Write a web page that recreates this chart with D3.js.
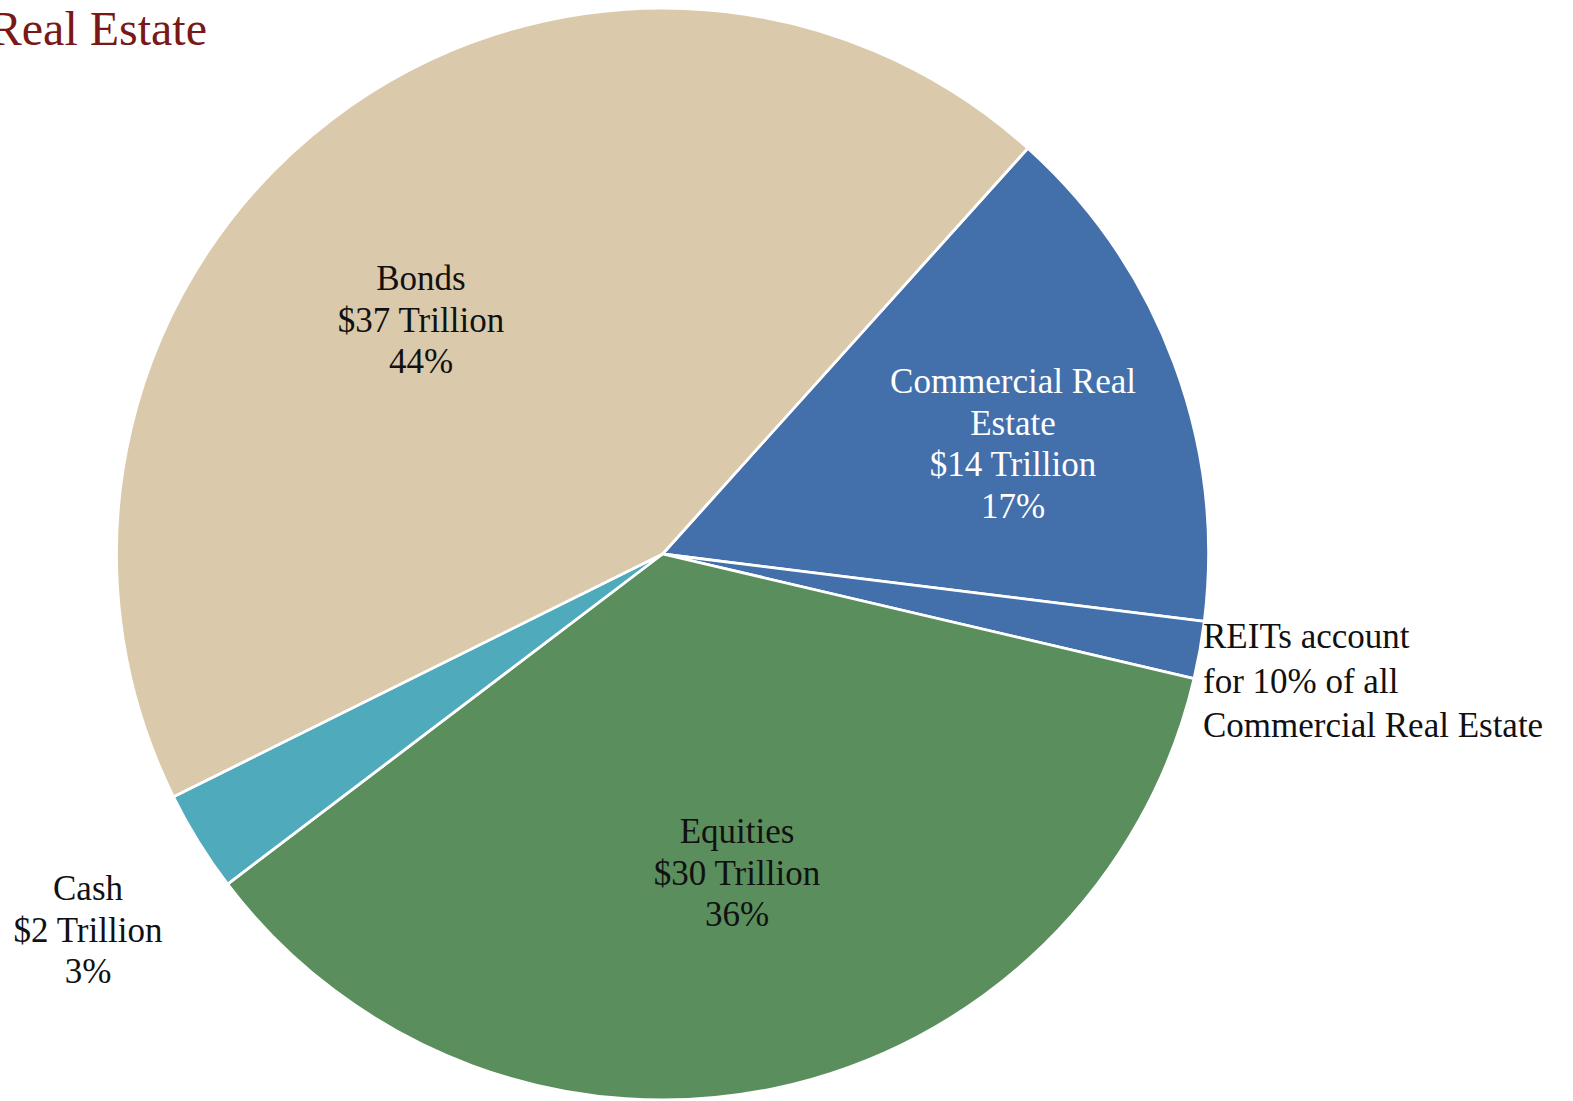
<!DOCTYPE html>
<html>
<head>
<meta charset="utf-8">
<script src="https://cdn.jsdelivr.net/npm/d3@7"></script>
<style>
  html, body { margin: 0; padding: 0; background: #ffffff; overflow: hidden; }
  svg { display: block; }
  text { font-family: "Liberation Serif", "DejaVu Serif", serif; }
</style>
</head>
<body>
<svg id="chart" width="1573" height="1101"></svg>
<script>
// Asset classes, clockwise from the top-right boundary
const categories = ["Commercial Real Estate", "REITs", "Equities", "Cash", "Bonds"];
// Share of total, percent (REITs are 10% of the 17% commercial real estate)
const sharePct = [15.3, 1.7, 36, 3, 44];
const colors = ["#4370aa", "#4370aa", "#5a8e5d", "#4faabc", "#dbc9ab"];

// Label text per slice
const labelLines = [
  ["Commercial Real", "Estate", "$14 Trillion", "17%"],
  ["REITs account", "for 10% of all", "Commercial Real Estate"],
  ["Equities", "$30 Trillion", "36%"],
  ["Cash", "$2 Trillion", "3%"],
  ["Bonds", "$37 Trillion", "44%"]
];

const svg = d3.select("#chart");
const cx = 662.5, cy = 554, radius = 546;
const startAngle = 42 * Math.PI / 180;

const pie = d3.pie()
  .sort(null)
  .value(d => d.value)
  .startAngle(startAngle)
  .endAngle(startAngle + 2 * Math.PI);

const data = categories.map((c, i) => ({ name: c, value: sharePct[i], color: colors[i], lines: labelLines[i] }));
const arcs = pie(data);

const arc = d3.arc().innerRadius(0).outerRadius(radius);

const g = svg.append("g").attr("transform", `translate(${cx},${cy})`);

g.selectAll("path.slice")
  .data(arcs)
  .join("path")
  .attr("class", "slice")
  .attr("d", arc)
  .attr("fill", d => d.data.color)
  .attr("stroke", "#ffffff")
  .attr("stroke-width", 2.8)
  .attr("stroke-linejoin", "round");

// Label blocks: anchor point of the first baseline, alignment and colour
const labelStyle = {
  "Commercial Real Estate": { x: 1013, y: 393, anchor: "middle", color: "#ffffff", lh: 41.5 },
  "REITs":                  { x: 1203, y: 648, anchor: "start",  color: "#111111", lh: 44.5 },
  "Equities":               { x: 737,  y: 843, anchor: "middle", color: "#111111", lh: 41.5 },
  "Cash":                   { x: 88,   y: 900, anchor: "middle", color: "#111111", lh: 41.5 },
  "Bonds":                  { x: 421,  y: 290, anchor: "middle", color: "#111111", lh: 41.5 }
};
const fontSize = 35;

arcs.forEach(a => {
  const st = labelStyle[a.data.name];
  const t = svg.append("text")
    .attr("text-anchor", st.anchor)
    .attr("fill", st.color)
    .attr("font-size", fontSize);
  a.data.lines.forEach((ln, i) => {
    t.append("tspan").attr("x", st.x).attr("y", st.y + i * st.lh).text(ln);
  });
});

// Title (runs off the left edge)
svg.append("text")
  .attr("x", 207)
  .attr("y", 45)
  .attr("text-anchor", "end")
  .attr("fill", "#7a1717")
  .attr("font-size", 48)
  .text("Real Estate");
</script>
</body>
</html>
